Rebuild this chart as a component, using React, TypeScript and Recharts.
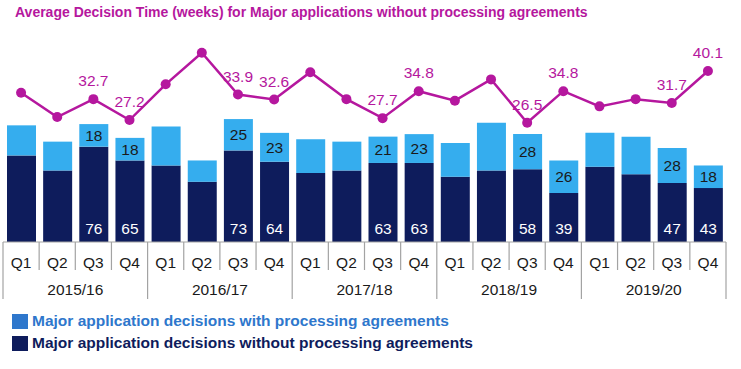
import {
  Bar,
  ComposedChart,
  LabelList,
  Line,
  XAxis,
  YAxis,
} from 'recharts'

const yearLabels = ['2015/16', '2016/17', '2017/18', '2018/19', '2019/20']
const quarterLabels = ['Q1', 'Q2', 'Q3', 'Q4']
const labelledQuarters = ['Q3', 'Q4']

// decisions per quarter, in order 2015/16 Q1 .. 2019/20 Q4
const withAgreements = [24, 23, 18, 18, 31, 17, 25, 23, 27, 23, 21, 23, 27, 38, 28, 26, 27, 30, 28, 18]
const withoutAgreements = [69, 57, 76, 65, 61, 48, 73, 64, 55, 57, 63, 63, 52, 57, 58, 39, 60, 54, 47, 43]
const avgWeeks = [
  34.4, 28.0, 32.7, 27.2, 36.6, 44.9, 33.9, 32.6, 39.8, 32.7, 27.7, 34.8, 32.3, 37.9, 26.5, 34.8, 30.8, 32.7,
  31.7, 40.1,
]

const palette = {
  magenta: '#b5179e',
  navy: '#0e1c5c',
  sky: '#35adee',
  legendBlue: '#2e77cc',
  grid: '#a3a3a3',
  text: '#1a1a1a',
}

const WIDTH = 741
const HEIGHT = 369
const margin = { top: 30, right: 15, bottom: 67, left: 3 }
const BAND = (WIDTH - margin.left - margin.right) / (yearLabels.length * quarterLabels.length)
const FONT = '"Liberation Sans", Arial, sans-serif'
const FS = 15.5

const chartData = yearLabels.flatMap((year, y) =>
  quarterLabels.map((quarter, q) => {
    const i = y * 4 + q
    const labelled = labelledQuarters.includes(quarter)
    return {
      key: `${year}-${quarter}`,
      year,
      quarter,
      without: withoutAgreements[i],
      withPA: withAgreements[i],
      weeks: avgWeeks[i],
      withoutLabel: labelled ? withoutAgreements[i] : null,
      withLabel: labelled ? withAgreements[i] : null,
      weeksLabel: labelled ? avgWeeks[i].toFixed(1) : null,
    }
  }),
)

function PeriodTick(props: any) {
  const { x, y, index } = props
  const row = chartData[index]
  if (!row) return null
  const left = x - BAND / 2
  const right = x + BAND / 2
  const yearStart = index % 4 === 0
  return (
    <g>
      <line x1={left} x2={left} y1={y} y2={y + (yearStart ? 57 : 28)} stroke={palette.grid} strokeWidth={1.2} />
      {index === chartData.length - 1 && (
        <line x1={right} x2={right} y1={y} y2={y + 57} stroke={palette.grid} strokeWidth={1.2} />
      )}
      <text x={x} y={y + 25.5} textAnchor="middle" fontSize={FS} fill={palette.text} fontFamily={FONT}>
        {row.quarter}
      </text>
      {index % 4 === 1 && (
        <text x={right} y={y + 52.5} textAnchor="middle" fontSize={FS} fill={palette.text} fontFamily={FONT}>
          {row.year}
        </text>
      )}
    </g>
  )
}

function BottomLabel(props: any) {
  const { x, y, width, height, value } = props
  if (value == null) return null
  return (
    <text
      x={x + width / 2}
      y={y + height - 8}
      textAnchor="middle"
      fontSize={FS}
      fill="#ffffff"
      fontFamily={FONT}
    >
      {value}
    </text>
  )
}

function MiddleLabel(props: any) {
  const { x, y, width, height, value } = props
  if (value == null) return null
  return (
    <text
      x={x + width / 2}
      y={y + height / 2}
      dy={5.5}
      textAnchor="middle"
      fontSize={FS}
      fill={palette.text}
      fontFamily={FONT}
    >
      {value}
    </text>
  )
}

function PointLabel(props: any) {
  const { x, y, value } = props
  if (value == null) return null
  return (
    <text x={x} y={y - 13} textAnchor="middle" fontSize={FS} fill={palette.magenta} fontFamily={FONT}>
      {value}
    </text>
  )
}

const legendItems = [
  { label: 'Major application decisions with processing agreements', color: palette.legendBlue },
  { label: 'Major application decisions without processing agreements', color: palette.navy },
]

export default function App() {
  return (
    <div
      style={{
        position: 'absolute',
        left: 0,
        top: 0,
        width: WIDTH,
        height: HEIGHT,
        background: '#ffffff',
        fontFamily: FONT,
      }}
    >
      <div
        style={{
          position: 'absolute',
          left: 15,
          top: 4,
          fontSize: 14,
          fontWeight: 700,
          color: palette.magenta,
          whiteSpace: 'nowrap',
        }}
      >
        Average Decision Time (weeks) for Major applications without processing agreements
      </div>

      <ComposedChart width={WIDTH} height={HEIGHT} data={chartData} margin={margin}>
        <XAxis
          dataKey="key"
          xAxisId="x"
          interval={0}
          height={60}
          tickSize={0}
          tickMargin={0}
          tickLine={false}
          axisLine={{ stroke: palette.grid, strokeWidth: 1.2 }}
          tick={<PeriodTick />}
        />
        <YAxis yAxisId="bars" hide domain={[0, 169]} allowDataOverflow />
        <YAxis yAxisId="weeks" hide domain={[-4.9, 50.9]} allowDataOverflow />
        <Bar dataKey="without" stackId="a" xAxisId="x" yAxisId="bars" fill={palette.navy} barSize={29} isAnimationActive={false}>
          <LabelList dataKey="withoutLabel" content={<BottomLabel />} />
        </Bar>
        <Bar dataKey="withPA" stackId="a" xAxisId="x" yAxisId="bars" fill={palette.sky} barSize={29} isAnimationActive={false}>
          <LabelList dataKey="withLabel" content={<MiddleLabel />} />
        </Bar>
        <Line
          dataKey="weeks"
          xAxisId="x"
          yAxisId="weeks"
          stroke={palette.magenta}
          strokeWidth={2.5}
          dot={{ r: 5, fill: palette.magenta, stroke: palette.magenta, strokeWidth: 0 }}
          isAnimationActive={false}
        >
          <LabelList dataKey="weeksLabel" content={<PointLabel />} />
        </Line>
      </ComposedChart>

      <div style={{ position: 'absolute', left: 12, top: 310 }}>
        {legendItems.map((item) => (
          <div key={item.label} style={{ display: 'flex', alignItems: 'center', height: 22 }}>
            <span style={{ width: 16, height: 15, background: item.color, marginRight: 4 }} />
            <span style={{ fontSize: FS, fontWeight: 700, color: item.color, whiteSpace: 'nowrap' }}>
              {item.label}
            </span>
          </div>
        ))}
      </div>
    </div>
  )
}
